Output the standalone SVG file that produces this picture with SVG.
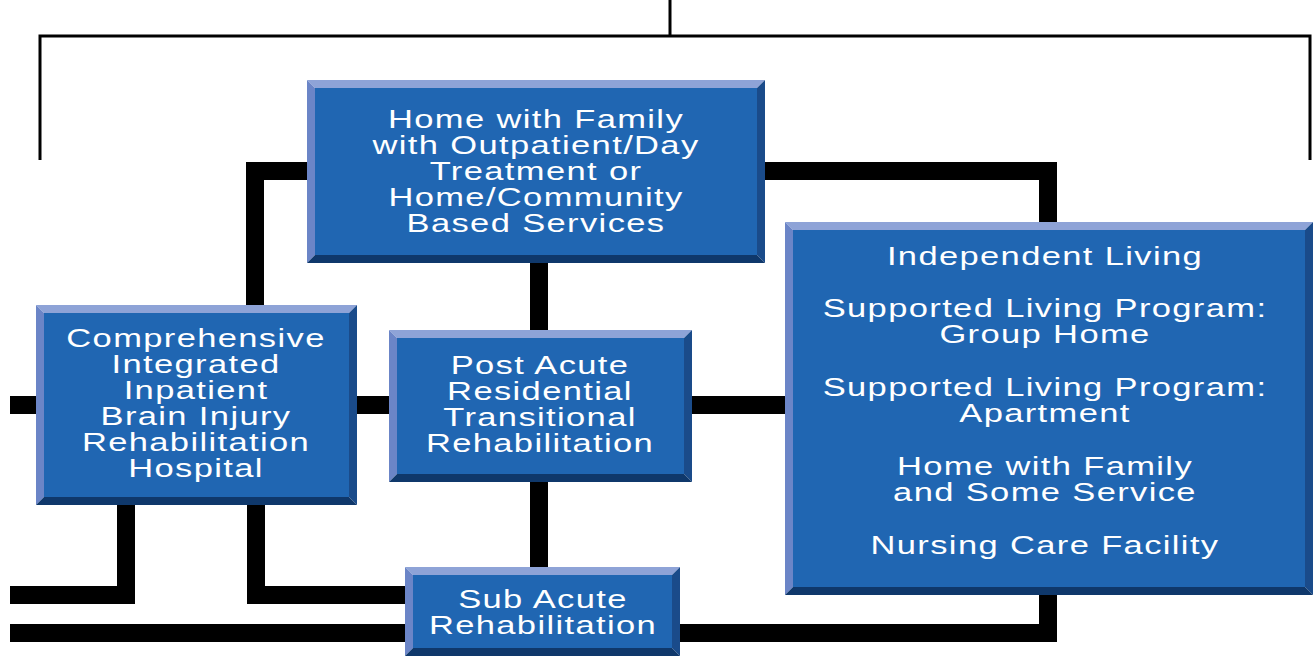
<svg xmlns="http://www.w3.org/2000/svg" width="1316" height="666" viewBox="0 0 1316 666">
<style>
.face{fill:#2066b2}
.bt{fill:#8ea3d7}
.bl{fill:#6b85c7}
.br{fill:#1a4b8a}
.bb{fill:#0f386b}
.thick{fill:none;stroke:#000;stroke-width:18;stroke-linejoin:miter}
.thin{fill:none;stroke:#000;stroke-width:3}
text{font-family:"Liberation Sans",Arial,sans-serif;font-size:25px;fill:#fff;text-anchor:middle;letter-spacing:1px}
</style>
<rect width="1316" height="666" fill="#fff"/>
<g id="connectors">
<path class="thin" d="M670,0 V36"/>
<path class="thin" d="M40,160 V36 H1310 V160"/>
<path class="thick" d="M307,171 H255 V305"/>
<path class="thick" d="M765,171 H1048 V222"/>
<path class="thick" d="M539,263 V330"/>
<path class="thick" d="M10,405 H36"/>
<path class="thick" d="M357,405 H389"/>
<path class="thick" d="M692,405 H785"/>
<path class="thick" d="M539,482 V567"/>
<path class="thick" d="M126,505 V595 H10"/>
<path class="thick" d="M256,505 V595 H405"/>
<path class="thick" d="M10,633 H1048 V595"/>
</g>
<g id="home-family">
<polygon class="bt" points="307,80 765,80 757,88 315,88"/>
<polygon class="bl" points="307,80 315,88 315,255 307,263"/>
<polygon class="br" points="765,80 765,263 757,255 757,88"/>
<polygon class="bb" points="307,263 315,255 757,255 765,263"/>
<rect class="face" x="315" y="88" width="442" height="167"/>
<g transform="translate(536,0) scale(1.38,1)">
<text x="0" y="128">Home with Family</text>
<text x="0" y="154">with Outpatient/Day</text>
<text x="0" y="180">Treatment or</text>
<text x="0" y="206">Home/Community</text>
<text x="0" y="232">Based Services</text>
</g>
</g>
<g id="comprehensive">
<polygon class="bt" points="36,305 357,305 349,313 44,313"/>
<polygon class="bl" points="36,305 44,313 44,497 36,505"/>
<polygon class="br" points="357,305 357,505 349,497 349,313"/>
<polygon class="bb" points="36,505 44,497 349,497 357,505"/>
<rect class="face" x="44" y="313" width="305" height="184"/>
<g transform="translate(196,0) scale(1.38,1)">
<text x="0" y="347">Comprehensive</text>
<text x="0" y="373">Integrated</text>
<text x="0" y="399">Inpatient</text>
<text x="0" y="425">Brain Injury</text>
<text x="0" y="451">Rehabilitation</text>
<text x="0" y="477">Hospital</text>
</g>
</g>
<g id="post-acute">
<polygon class="bt" points="389,330 692,330 684,338 397,338"/>
<polygon class="bl" points="389,330 397,338 397,474 389,482"/>
<polygon class="br" points="692,330 692,482 684,474 684,338"/>
<polygon class="bb" points="389,482 397,474 684,474 692,482"/>
<rect class="face" x="397" y="338" width="287" height="136"/>
<g transform="translate(540,0) scale(1.38,1)">
<text x="0" y="374">Post Acute</text>
<text x="0" y="400">Residential</text>
<text x="0" y="426">Transitional</text>
<text x="0" y="452">Rehabilitation</text>
</g>
</g>
<g id="sub-acute">
<polygon class="bt" points="405,567 680,567 672,575 413,575"/>
<polygon class="bl" points="405,567 413,575 413,648 405,656"/>
<polygon class="br" points="680,567 680,656 672,648 672,575"/>
<polygon class="bb" points="405,656 413,648 672,648 680,656"/>
<rect class="face" x="413" y="575" width="259" height="73"/>
<g transform="translate(543,0) scale(1.38,1)">
<text x="0" y="608">Sub Acute</text>
<text x="0" y="634">Rehabilitation</text>
</g>
</g>
<g id="outcomes">
<polygon class="bt" points="785,222 1313,222 1305,230 793,230"/>
<polygon class="bl" points="785,222 793,230 793,587 785,595"/>
<polygon class="br" points="1313,222 1313,595 1305,587 1305,230"/>
<polygon class="bb" points="785,595 793,587 1305,587 1313,595"/>
<rect class="face" x="793" y="230" width="512" height="357"/>
<g transform="translate(1045,0) scale(1.38,1)">
<text x="0" y="265">Independent Living</text>
<text x="0" y="317">Supported Living Program:</text>
<text x="0" y="343">Group Home</text>
<text x="0" y="396">Supported Living Program:</text>
<text x="0" y="422">Apartment</text>
<text x="0" y="475">Home with Family</text>
<text x="0" y="501">and Some Service</text>
<text x="0" y="554">Nursing Care Facility</text>
</g>
</g>
</svg>
